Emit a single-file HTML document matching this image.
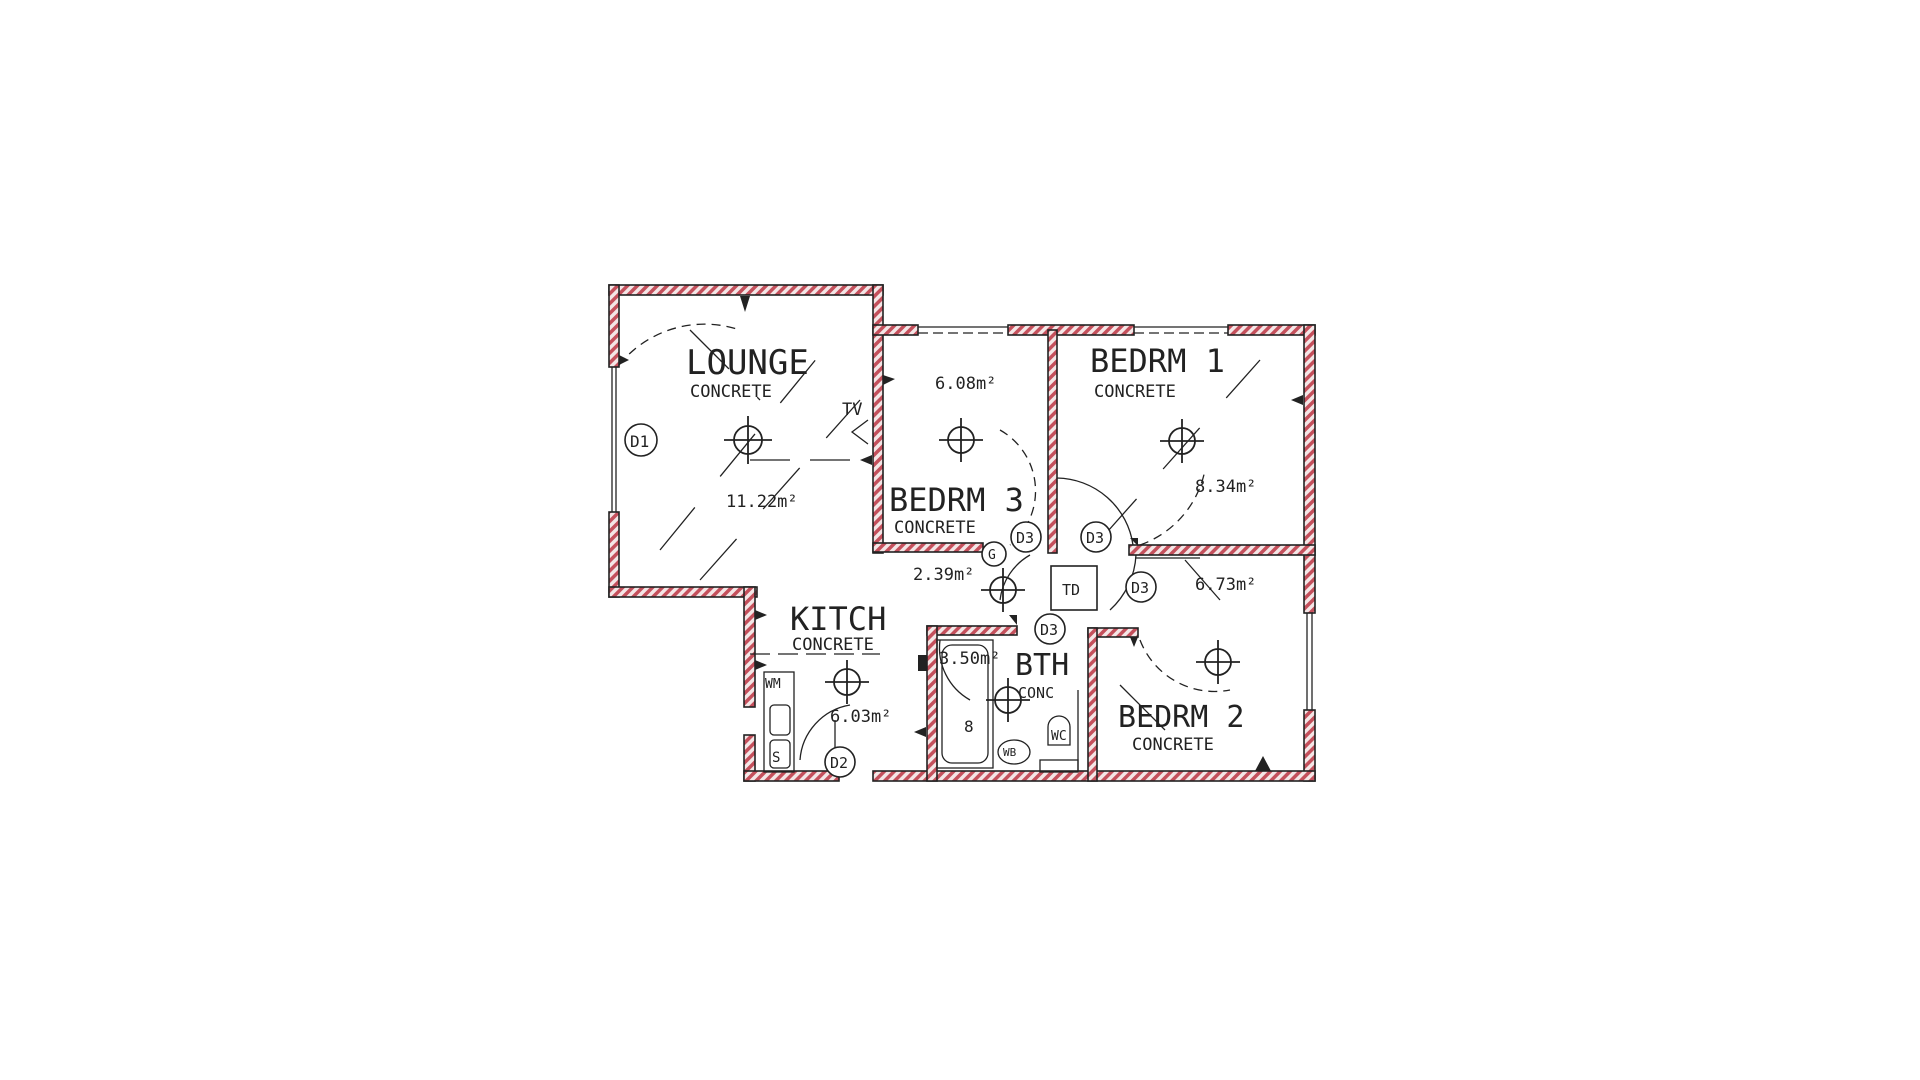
<!DOCTYPE html>
<html><head><meta charset="utf-8">
<style>
html,body{margin:0;padding:0;background:#fff;width:1920px;height:1080px;overflow:hidden}
svg{display:block}
text{font-family:"DejaVu Sans Mono","Liberation Mono",monospace;fill:#222}
</style></head>
<body>
<svg width="1920" height="1080" viewBox="0 0 1920 1080" xmlns="http://www.w3.org/2000/svg">
<defs>
<pattern id="h" width="7" height="7" patternUnits="userSpaceOnUse" patternTransform="rotate(45)">
<rect width="7" height="7" fill="#f4e6e6"/>
<rect width="3.5" height="7" fill="#c4505c"/>
</pattern>
</defs>
<g stroke="#222" stroke-width="1.6" fill="url(#h)">
<!-- lounge top -->
<rect x="609" y="285" width="274" height="10"/>
<!-- lounge left (with window gap) -->
<rect x="609" y="285" width="10" height="82"/>
<rect x="609" y="512" width="10" height="85"/>
<!-- lounge bottom -->
<rect x="609" y="587" width="148" height="10"/>
<!-- lounge right / bedrm3 left -->
<rect x="873" y="285" width="10" height="268"/>
<!-- top right part -->
<rect x="873" y="325" width="45" height="10"/>
<rect x="1008" y="325" width="126" height="10"/>
<rect x="1228" y="325" width="87" height="10"/>
<!-- right wall -->
<rect x="1304" y="325" width="11" height="288"/>
<rect x="1304" y="710" width="11" height="71"/>
<!-- kitchen left -->
<rect x="744" y="587" width="11" height="120"/>
<rect x="744" y="735" width="11" height="46"/>
<!-- bottom wall -->
<rect x="744" y="771" width="95" height="10"/>
<rect x="873" y="771" width="442" height="10"/>
<!-- bedrm3 / bedrm1 partition -->
<rect x="1048" y="330" width="9" height="223"/>
<!-- bedrm3 bottom -->
<rect x="873" y="543" width="110" height="9"/>
<!-- bedrm1 bottom -->
<rect x="1129" y="545" width="186" height="10"/>
<!-- bath top & left -->
<rect x="927" y="626" width="90" height="9"/>
<rect x="927" y="626" width="10" height="155"/>
<!-- bedrm2 top & left -->
<rect x="1088" y="628" width="50" height="9"/>
<rect x="1088" y="628" width="9" height="153"/>
</g>
<g stroke="#222" stroke-width="1.3" fill="none">
<!-- windows -->
<line x1="612" y1="367" x2="612" y2="512"/><line x1="616" y1="367" x2="616" y2="512"/>
<line x1="918" y1="327" x2="1008" y2="327"/><line x1="918" y1="333" x2="1008" y2="333" stroke-dasharray="10 5"/>
<line x1="1134" y1="327" x2="1228" y2="327"/><line x1="1134" y1="333" x2="1228" y2="333" stroke-dasharray="10 5"/>
<line x1="1307" y1="613" x2="1307" y2="710"/><line x1="1312" y1="613" x2="1312" y2="710"/>
<!-- inner wall lines -->
<line x1="1135" y1="558" x2="1200" y2="558"/>
<line x1="1078" y1="690" x2="1078" y2="771"/>
<!-- door swings -->
<g stroke-dasharray="9 6">
<path d="M619 365 A 110 110 0 0 1 740 330"/>
<path d="M1000 430 A 70 70 0 0 1 1010 545"/>
<path d="M1140 545 A 100 100 0 0 0 1205 470"/>
<path d="M1140 640 A 80 80 0 0 0 1230 690"/>
</g>
<path d="M1057 478 A 78 78 0 0 1 1133 545"/>
<path d="M1136 555 A 80 80 0 0 1 1110 610"/>
<path d="M1030 555 A 60 60 0 0 0 1000 600" />
<path d="M800 760 A 60 60 0 0 1 850 705"/>
<path d="M940 640 A 60 60 0 0 0 970 700"/>
<!-- lounge diagonals -->
<g stroke-dasharray="55 40">
<line x1="660" y1="550" x2="840" y2="330"/>
<line x1="700" y1="580" x2="860" y2="400"/>
<line x1="690" y1="330" x2="760" y2="400"/>
<line x1="1100" y1="540" x2="1260" y2="360"/>
</g>
<line x1="750" y1="460" x2="860" y2="460" stroke-dasharray="40 20"/>
<line x1="1120" y1="685" x2="1165" y2="730"/>
<line x1="1185" y1="560" x2="1220" y2="600"/>
<!-- TV -->
<polyline points="868,420 852,432 868,444"/>
<!-- bath tub -->
<rect x="942" y="645" width="46" height="118" rx="10"/>
<rect x="937" y="640" width="56" height="128"/>
<!-- kitchen units -->
<rect x="764" y="672" width="30" height="100"/>
<rect x="770" y="705" width="20" height="30" rx="4"/>
<rect x="770" y="740" width="20" height="28" rx="4"/>
<line x1="835" y1="720" x2="835" y2="770"/>
<line x1="750" y1="654" x2="880" y2="654" stroke-dasharray="20 8"/>
<!-- WC / WB -->
<ellipse cx="1014" cy="752" rx="16" ry="12"/>
<path d="M1048 745 v-18 a11 11 0 0 1 22 0 v18 z"/>
<rect x="1040" y="760" width="38" height="12"/>
<!-- TD -->
<rect x="1051" y="566" width="46" height="44" stroke-width="1.6"/>
</g>
<!-- lights -->
<g stroke="#222" stroke-width="1.8" fill="none">
<g transform="translate(748,440)"><circle r="14"/><line x1="-24" x2="24"/><line y1="-24" y2="24"/></g>
<g transform="translate(961,440)"><circle r="13"/><line x1="-22" x2="22"/><line y1="-22" y2="22"/></g>
<g transform="translate(1182,441)"><circle r="13"/><line x1="-22" x2="22"/><line y1="-22" y2="22"/></g>
<g transform="translate(1003,590)"><circle r="13"/><line x1="-22" x2="22"/><line y1="-22" y2="22"/></g>
<g transform="translate(1218,662)"><circle r="13"/><line x1="-22" x2="22"/><line y1="-22" y2="22"/></g>
<g transform="translate(847,682)"><circle r="13"/><line x1="-22" x2="22"/><line y1="-22" y2="22"/></g>
<g transform="translate(1008,700)"><circle r="13"/><line x1="-22" x2="22"/><line y1="-22" y2="22"/></g>
</g>
<!-- tags -->
<g stroke="#222" stroke-width="1.6" fill="#fff">
<circle cx="641" cy="440" r="16"/>
<circle cx="1026" cy="537" r="15"/>
<circle cx="1096" cy="537" r="15"/>
<circle cx="1141" cy="587" r="15"/>
<circle cx="1050" cy="629" r="15"/>
<circle cx="840" cy="762" r="15"/>
<circle cx="994" cy="554" r="12"/>
</g>
<!-- switch blobs -->
<g fill="#222">
<path d="M740 296 l10 0 l-5 16 z"/><path d="M619 355 l10 5 l-10 5 z"/>
<path d="M883 375 l12 4 l-12 6 z"/><path d="M872 455 l-12 5 l12 5 z"/>
<path d="M1303 395 l-12 5 l12 5 z"/><path d="M1130 538 l8 0 l0 8 z"/>
<path d="M1255 771 l8 -15 l8 15 z"/><path d="M755 610 l12 5 l-12 5 z"/>
<path d="M755 660 l12 5 l-12 5 z"/><path d="M926 727 l-12 5 l12 5 z"/>
<path d="M1009 615 l8 0 l0 10 z"/><path d="M1130 637 l8 0 l-4 10 z"/>
<rect x="918" y="655" width="9" height="16"/>
</g>
<!-- labels -->
<text x="686" y="374" font-size="34">LOUNGE</text>
<text x="690" y="397" font-size="17">CONCRETE</text>
<text x="842" y="415" font-size="17">TV</text>
<text x="726" y="507" font-size="17">11.22m²</text>
<text x="935" y="389" font-size="17">6.08m²</text>
<text x="889" y="511" font-size="32">BEDRM 3</text>
<text x="894" y="533" font-size="17">CONCRETE</text>
<text x="913" y="580" font-size="17">2.39m²</text>
<text x="1090" y="372" font-size="32">BEDRM 1</text>
<text x="1094" y="397" font-size="17">CONCRETE</text>
<text x="1195" y="492" font-size="17">8.34m²</text>
<text x="1195" y="590" font-size="17">6.73m²</text>
<text x="1118" y="727" font-size="30">BEDRM 2</text>
<text x="1132" y="750" font-size="17">CONCRETE</text>
<text x="790" y="630" font-size="32">KITCH</text>
<text x="792" y="650" font-size="17">CONCRETE</text>
<text x="830" y="722" font-size="17">6.03m²</text>
<text x="939" y="664" font-size="17">3.50m²</text>
<text x="1015" y="675" font-size="30">BTH</text>
<text x="1018" y="698" font-size="15">CONC</text>
<text x="964" y="732" font-size="16">8</text>
<text x="1003" y="756" font-size="11">WB</text>
<text x="1051" y="740" font-size="13">WC</text>
<text x="765" y="688" font-size="13">WM</text>
<text x="772" y="762" font-size="14">S</text>
<text x="1062" y="595" font-size="15">TD</text>
<text x="630" y="447" font-size="16">D1</text>
<text x="1016" y="543" font-size="15">D3</text>
<text x="1086" y="543" font-size="15">D3</text>
<text x="1131" y="593" font-size="15">D3</text>
<text x="1040" y="635" font-size="15">D3</text>
<text x="830" y="768" font-size="15">D2</text>
<text x="988" y="559" font-size="13">G</text>
</svg>
</body></html>
